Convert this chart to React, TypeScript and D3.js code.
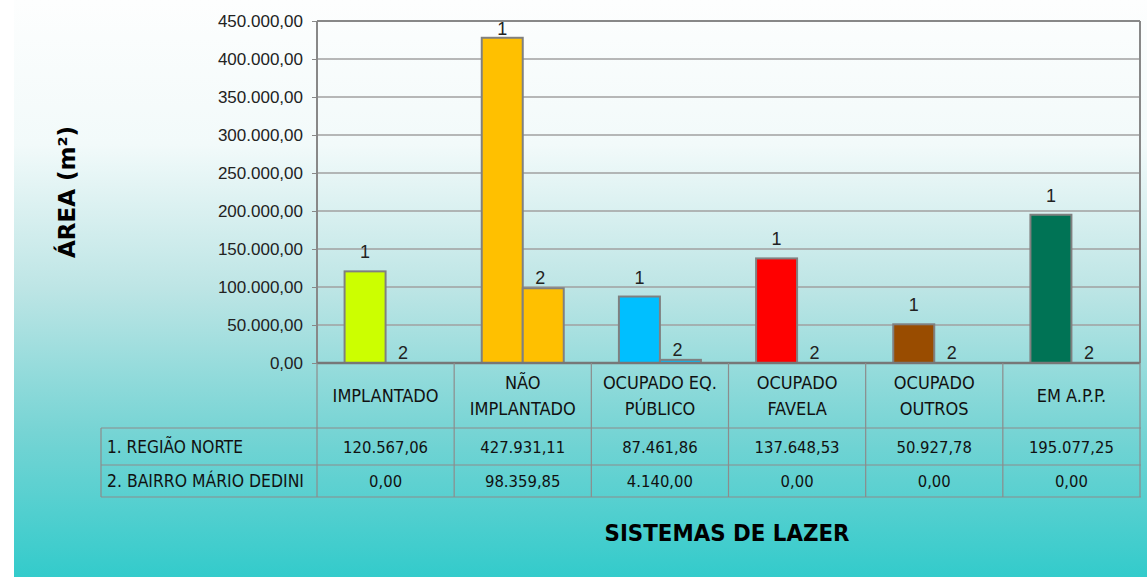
import React, { useEffect, useRef } from 'react';
import * as d3 from 'd3';

const categories = [
  ['IMPLANTADO'],
  ['NÃO', 'IMPLANTADO'],
  ['OCUPADO EQ.', 'PÚBLICO'],
  ['OCUPADO', 'FAVELA'],
  ['OCUPADO', 'OUTROS'],
  ['EM A.P.P.'],
];
const seriesNames = ['1. REGIÃO NORTE', '2. BAIRRO MÁRIO DEDINI'];
const regiaoNorte = [120567.06, 427931.11, 87461.86, 137648.53, 50927.78, 195077.25];
const bairroMarioDedini = [0, 98359.85, 4140, 0, 0, 0];
const barColors = ['#ccff00', '#ffc000', '#00bfff', '#ff0000', '#994c00', '#007355'];
const yTicks = [0, 50000, 100000, 150000, 200000, 250000, 300000, 350000, 400000, 450000];

const W = 1147, H = 577;

const ptBR = d3.formatLocale({ decimal: ',', thousands: '.', grouping: [3], currency: ['R$', ''] });
const fmt = ptBR.format(',.2f');

function App() {
  const ref = useRef<SVGSVGElement>(null);

  useEffect(() => {
    const svg = d3.select(ref.current);
    svg.selectAll('*').remove();

    // background gradient
    const defs = svg.append('defs');
    const grad = defs.append('linearGradient').attr('id', 'bg').attr('x1', 0).attr('y1', 0).attr('x2', 0).attr('y2', 1);
    [[0, '#fdfefe'], [0.25, '#f2fafa'], [0.5, '#bde5e5'], [0.75, '#76d4d4'], [1, '#33cbcb']].forEach(([o, c]) =>
      grad.append('stop').attr('offset', o as number).attr('stop-color', c as string));
    svg.append('rect').attr('width', W).attr('height', H).attr('fill', '#ffffff');
    svg.append('rect').attr('x', 14).attr('width', W - 14).attr('height', H).attr('fill', 'url(#bg)');

    const left = 317, right = 1140, top = 21, bottom = 363;
    const series = [regiaoNorte, bairroMarioDedini];

    const x0 = d3.scaleBand<number>().domain(d3.range(categories.length)).range([left, right]).paddingInner(0);
    const bw = x0.bandwidth();
    const x1 = d3.scaleBand<number>().domain([0, 1]).range([(bw - 82) / 2, (bw + 82) / 2]);
    const y = d3.scaleLinear().domain([0, 450000]).range([bottom, top]);

    // gridlines
    svg.append('g').selectAll('line').data(yTicks.slice(1)).enter().append('line')
      .attr('x1', left).attr('x2', right)
      .attr('y1', d => y(d)).attr('y2', d => y(d))
      .attr('stroke', '#a0a0a0').attr('stroke-width', 1.3);

    // y axis
    const yAxis = d3.axisLeft(y).tickValues(yTicks).tickSize(5).tickPadding(9).tickFormat(d => fmt(d as number));
    const ya = svg.append('g').attr('transform', `translate(${left},0)`).call(yAxis);
    ya.select('.domain').remove();
    ya.selectAll('line').attr('stroke', '#888');
    ya.selectAll('text').attr('font-family', 'Liberation Sans, Arial, sans-serif').attr('font-size', 17).attr('fill', '#222');

    // bars
    const groups = svg.append('g').selectAll('g').data(d3.range(categories.length)).enter().append('g')
      .attr('transform', i => `translate(${x0(i)},0)`);
    groups.each(function (ci) {
      const g = d3.select(this);
      series.forEach((s, si) => {
        const v = s[ci];
        const bx = x1(si) as number;
        g.append('rect')
          .attr('x', bx).attr('width', x1.bandwidth())
          .attr('y', y(v)).attr('height', bottom - y(v))
          .attr('fill', barColors[ci])
          .attr('stroke', v > 0 ? '#808080' : 'none').attr('stroke-width', 2);
        const gap = si === 0 ? 13 : 4;
        g.append('text')
          .attr('x', bx + x1.bandwidth() / 2 - (si === 0 ? 0 : 3)).attr('y', Math.max(y(v) - gap, 35))
          .attr('text-anchor', 'middle')
          .attr('font-family', 'Liberation Sans, Arial, sans-serif').attr('font-size', 18).attr('fill', '#222')
          .text(si + 1);
      });
    });

    // plot frame
    svg.append('line').attr('x1', left).attr('x2', right).attr('y1', top).attr('y2', top).attr('stroke', '#888').attr('stroke-width', 2);
    svg.append('line').attr('x1', right).attr('x2', right).attr('y1', top).attr('y2', bottom).attr('stroke', '#888').attr('stroke-width', 2);
    svg.append('line').attr('x1', left).attr('x2', left).attr('y1', top).attr('y2', bottom).attr('stroke', '#888').attr('stroke-width', 2);
    svg.append('line').attr('x1', left).attr('x2', right).attr('y1', bottom).attr('y2', bottom).attr('stroke', '#777').attr('stroke-width', 2.5);

    // data table
    const tLeft = 101, hBottom = 428, r1Bottom = 465, r2Bottom = 497;
    const tFont = 'Liberation Sans Narrow, DejaVu Sans Condensed, Arial Narrow, sans-serif';
    const table = svg.append('g');
    const line = (xa: number, ya2: number, xb: number, yb: number) =>
      table.append('line').attr('x1', xa).attr('y1', ya2).attr('x2', xb).attr('y2', yb).attr('stroke', '#8c8c8c').attr('stroke-width', 1.2);
    [hBottom, r1Bottom, r2Bottom].forEach(yy => line(tLeft, yy, right + 1, yy));
    line(tLeft, hBottom, tLeft, r2Bottom);
    d3.range(categories.length + 1).forEach(i => {
      const xx = i < categories.length ? (x0(i) as number) : right;
      line(xx, bottom, xx, r2Bottom);
    });

    categories.forEach((lines, i) => {
      const cx = (x0(i) as number) + bw / 2;
      const mid = (bottom + hBottom) / 2;
      lines.forEach((t, li) => {
        const yy = mid + (li - (lines.length - 1) / 2) * 26;
        table.append('text').attr('x', cx).attr('y', yy).attr('dy', '0.35em')
          .attr('text-anchor', 'middle').attr('font-family', tFont).attr('font-size', 18).attr('fill', '#111')
          .text(t);
      });
    });

    const rowMids = [(hBottom + r1Bottom) / 2 + 1, (r1Bottom + r2Bottom) / 2];
    const labelLens = [136, 197];
    series.forEach((s, si) => {
      table.append('text').attr('x', tLeft + 6).attr('y', rowMids[si]).attr('dy', '0.35em')
        .attr('font-family', tFont).attr('font-size', 17).attr('fill', '#111')
        .attr('textLength', labelLens[si]).attr('lengthAdjust', 'spacingAndGlyphs')
        .text(seriesNames[si]);
      s.forEach((v, ci) => {
        table.append('text').attr('x', (x0(ci) as number) + bw / 2).attr('y', rowMids[si]).attr('dy', '0.35em')
          .attr('text-anchor', 'middle').attr('font-family', tFont).attr('font-size', 16.5).attr('fill', '#111')
          .text(fmt(v));
      });
    });

    // axis titles
    svg.append('text').attr('transform', 'translate(75,192) rotate(-90)').attr('text-anchor', 'middle')
      .attr('font-family', 'DejaVu Sans, sans-serif').attr('font-weight', 'bold').attr('font-size', 23).attr('fill', '#000')
      .text('ÁREA (m²)');
    svg.append('text').attr('x', 727).attr('y', 541).attr('text-anchor', 'middle')
      .attr('font-family', 'DejaVu Sans, sans-serif').attr('font-weight', 'bold').attr('font-size', 23).attr('fill', '#000')
      .attr('textLength', 245).attr('lengthAdjust', 'spacingAndGlyphs')
      .text('SISTEMAS DE LAZER');
  }, []);

  return (
    <div style={{ position: 'absolute', left: 0, top: 0 }}>
      <svg ref={ref} width={W} height={H} style={{ display: 'block' }} />
    </div>
  );
}

export default App;
